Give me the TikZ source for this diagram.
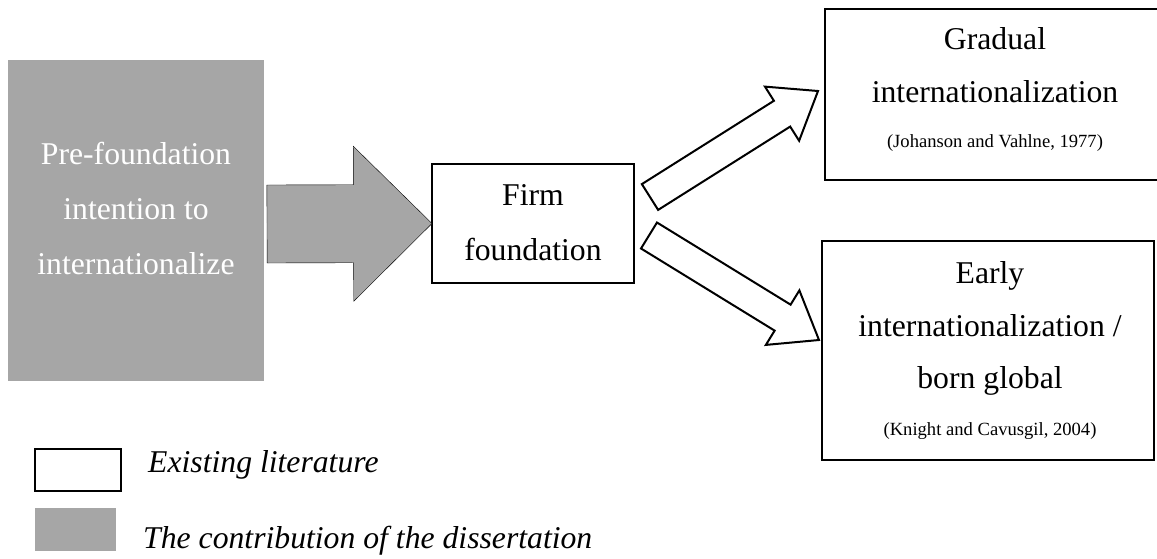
\documentclass[tikz,border=0pt]{standalone}
\usepackage{fontspec}
\setmainfont{Liberation Serif}
\usetikzlibrary{calc}
\definecolor{boxgrey}{HTML}{A6A6A6}
\newcommand\bigtext{\fontsize{31.7}{38}\selectfont}
\newcommand\smalltext{\fontsize{18.6}{22}\selectfont}
% block arrow: style, tail, tip, shaft half width, head base fraction, head half width
\newcommand\blockarrow[6]{%
  \draw[#1] ($(#2)!#4!90:(#3)$) -- ($(#2)!#5!(#3)!#4!90:(#3)$)
    -- ($(#2)!#5!(#3)!#6!90:(#3)$) -- (#3)
    -- ($(#2)!#5!(#3)!#6!-90:(#3)$) -- ($(#2)!#5!(#3)!#4!-90:(#3)$)
    -- ($(#2)!#4!-90:(#3)$) -- cycle;}
\tikzset{
  box/.style={draw=black, line width=2pt, fill=white, inner sep=0pt, outer sep=0pt},
  greybox/.style={fill=boxgrey, inner sep=0pt, outer sep=0pt},
  line/.style={font=\bigtext, anchor=base, inner sep=0pt},
  cite/.style={font=\smalltext, anchor=base, inner sep=0pt},
  legendtext/.style={font=\bigtext\itshape, anchor=base west, inner sep=0pt},
  hollow/.style={draw=black, fill=white, line width=2pt, line join=miter},
  solid grey/.style={fill=boxgrey},
}
\begin{document}
\begin{tikzpicture}[x=1pt, y=-1pt]
\useasboundingbox (0,0) rectangle (1157,558);
\clip (0,0) rectangle (1157,558);

% pre-foundation stage
\node[greybox, minimum width=256pt, minimum height=321pt] (pre) at (136,220.5) {};
\node[line, text=white] (pre1) at (136,164.5) {Pre-foundation};
\node[line, text=white] (pre2) at (136,219.5) {intention to};
\node[line, text=white] (pre3) at (136,274.5) {internationalize};

% firm foundation
\node[box, minimum width=202pt, minimum height=119pt] (firm) at (533,223.5) {};
\node[line] (firm1) at (533,205) {Firm};
\node[line] (firm2) at (533,260) {foundation};

% gradual internationalization
\node[box, minimum width=340pt, minimum height=171pt] (grad) at (995,94.5) {};
\node[line] (grad1) at (995,49) {Gradual};
\node[line] (grad2) at (995,102) {internationalization};
\node[cite] (grad3) at (995,147) {(Johanson and Vahlne, 1977)};

% early internationalization
\node[box, minimum width=332pt, minimum height=219pt] (early) at (988,350.5) {};
\node[line] (early1) at (990,283) {Early};
\node[line] (early2) at (990,336) {internationalization /};
\node[line] (early3) at (990,388) {born global};
\node[cite] (early4) at (990,435) {(Knight and Cavusgil, 2004)};

% connectors
\coordinate (g0) at ($(pre.east)+(3,3.5)$);
\coordinate (g1) at (firm.west);
\blockarrow{solid grey}{g0}{g1}{39pt}{0.5244}{77.5pt}

\coordinate (u0) at ($(firm.east)+(16,-26.5)$);
\coordinate (u1) at (818,91);
\blockarrow{hollow}{u0}{u1}{15.25pt}{0.786}{32pt}

\coordinate (d0) at ($(firm.east)+(15,12)$);
\coordinate (d1) at (819,340);
\blockarrow{hollow}{d0}{d1}{15.25pt}{0.786}{32pt}

% legend
\node[box, minimum width=86pt, minimum height=42pt] (legwhite) at (78,470) {};
\node[legendtext] (legwhitetext) at (148,472) {Existing literature};
\node[greybox, minimum width=81pt, minimum height=43pt] (leggrey) at (75.5,529.5) {};
\node[legendtext] (leggreytext) at (143,548) {The contribution of the dissertation};
\end{tikzpicture}
\end{document}
